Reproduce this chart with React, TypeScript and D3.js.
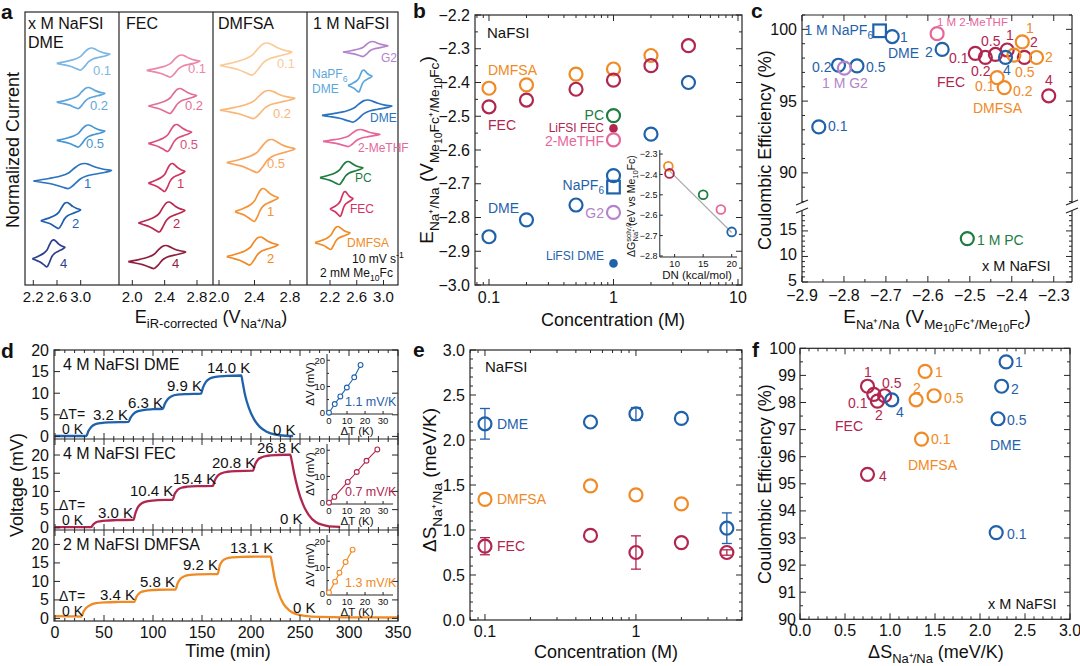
import React from 'react';
import * as d3 from 'd3';

const FONT = "'Liberation Sans', Arial, Helvetica, sans-serif";
const AXC = '#262626';
const BLUE = '#1f62ab';
const ORANGE = '#f08a24';
const CRIMSON = '#b1264f';
const GREEN = '#1d7c3f';
const PINK = '#e5679b';
const PURPLE = '#b384cb';
const LBLUE = '#5aa7de';

/* ================= a : cyclic voltammograms ================= */
// normalised duck-shaped CV outline
const cvShapeU = [0, 0.2, 0.35, 0.45, 0.52, 0.6, 0.66, 0.72, 0.8, 0.9, 1, 0.92, 0.8, 0.68, 0.6, 0.52, 0.45, 0.38, 0.25, 0.1, 0];
const cvShapeV = [-0.2, -0.1, 0, 0.12, 0.3, 0.47, 0.5, 0.45, 0.35, 0.27, 0.22, 0.15, 0.08, 0, -0.12, -0.35, -0.5, -0.45, -0.33, -0.25, -0.2];

const aDMEConc = ['0.1', '0.2', '0.5', '1', '2', '4'];
const aDMELeft = [2.595, 2.595, 2.595, 2.2, 2.325, 2.183];
const aDMERight = [3.494, 3.41, 3.41, 3.52, 3.0, 2.735];
const aDMELevel = [22.6, 18.7, 14.9, 10.9, 6.95, 3.17];
const aDMEAmp = [2.2, 2.1, 2.2, 2.5, 2.6, 2.7];

const aFECConc = ['0.1', '0.2', '0.5', '1', '2', '4'];
const aFECLeft = [2.178, 2.198, 2.198, 2.198, 2.074, 1.95];
const aFECRight = [2.837, 2.796, 2.734, 2.651, 2.651, 2.66];
const aFECLevel = [21.9, 18.4, 14.7, 10.75, 6.8, 2.8];
const aFECAmp = [2.2, 2.5, 2.7, 2.8, 3.0, 2.3];

const aDMFSAConc = ['0.1', '0.2', '0.5', '1', '2'];
const aDMFSALeft = [2.011, 2.011, 2.087, 2.18, 2.087];
const aDMFSARight = [2.82, 2.856, 2.856, 2.668, 2.668];
const aDMFSALevel = [22.6, 18.05, 12.9, 8.0, 3.4];
const aDMFSAAmp = [3.2, 2.8, 3.3, 3.3, 2.8];

const aSolvNames = ['G2', 'NaPF6 DME', 'DME', '2-MeTHF', 'PC', 'FEC', 'DMFSA'];
const aSolvLeft = [2.394, 2.469, 2.08, 2.095, 2.05, 2.2, 1.976];
const aSolvRight = [3.067, 2.828, 3.127, 2.947, 2.693, 2.544, 2.5];
const aSolvLevel = [23.6, 20.4, 17.4, 14.7, 11.2, 8.1, 4.7];
const aSolvAmp = [1.5, 2.2, 2.2, 1.7, 2.3, 2.5, 2.3];

const aColTicks = [[2.2, 2.6, 3.0], [2.0, 2.4, 2.8], [2.0, 2.4, 2.8], [2.2, 2.6, 3.0]];

/* ================= b ================= */
const bConcDME = [0.1, 0.2, 0.5, 1, 2, 4];
const bEDME = [-2.857, -2.807, -2.763, -2.676, -2.553, -2.40];
const bConcFEC = [0.1, 0.2, 0.5, 1, 2, 4];
const bEFEC = [-2.472, -2.452, -2.42, -2.393, -2.35, -2.291];
const bConcDMFSA = [0.1, 0.2, 0.5, 1, 2];
const bEDMFSA = [-2.417, -2.407, -2.375, -2.36, -2.32];
const bOtherNames = ['PC', 'LiFSI FEC', '2-MeTHF', 'NaPF6', 'G2', 'LiFSI DME'];
const bOtherE = [-2.498, -2.536, -2.57, -2.71, -2.785, -2.936];
const bOtherKind = ['open', 'filled', 'open', 'square', 'open', 'filled'];

const dnNames = ['DMFSA', 'FEC', 'PC', '2-MeTHF', 'DME'];
const dnValues = [8.9, 9.1, 15.0, 18.1, 20.0];
const dnEnergy = [-2.36, -2.395, -2.50, -2.572, -2.682];
const dnFitDN = [9.2, 20.0];
const dnFitE = [-2.385, -2.685];

/* ================= c ================= */
const cDME_E = [-2.86, -2.813, -2.769, -2.685, -2.566, -2.415];
const cDME_CE = [93.2, 97.5, 97.45, 99.5, 98.6, 98.05];
const cFEC_E = [-2.487, -2.463, -2.439, -2.411, -2.37, -2.312];
const cFEC_CE = [98.33, 98.05, 98.25, 98.56, 98.05, 95.37];
const cDMFSA_E = [-2.435, -2.418, -2.395, -2.375, -2.341];
const cDMFSA_CE = [96.64, 95.94, 98.2, 99.13, 98.04];
const cNaPF6 = [-2.715, 99.9];
const cG2 = [-2.799, 97.3];
const cMeTHF = [-2.578, 99.7];
const cPC = [-2.506, 13.5];

/* ================= d ================= */
const dDMEt = [0, 32, 34, 37, 41, 47, 56, 75, 77, 80, 84, 90, 100, 110, 112, 115, 119, 125, 135, 149, 151, 154, 158, 164, 175, 190, 191.5, 194, 198, 203, 209, 216, 225, 235, 243];
const dDMEv = [0.1, 0.1, 1.2, 2.2, 2.8, 3.1, 3.25, 3.35, 4.3, 5.2, 5.8, 6.1, 6.3, 6.4, 7.5, 8.6, 9.3, 9.65, 9.8, 9.9, 11.3, 12.6, 13.4, 13.8, 14.0, 14.1, 12.5, 9.5, 6.5, 4.0, 2.2, 1.1, 0.4, 0.15, 0.1];
const dFECt = [0, 37, 39, 42, 46, 52, 62, 80, 82, 85, 89, 95, 105, 120, 122, 125, 129, 135, 145, 161, 163, 166, 170, 176, 186, 202, 204, 207, 211, 217, 227, 240, 241.5, 244, 248, 253, 259, 266, 275, 285, 291];
const dFECv = [0.2, 0.2, 0.9, 1.5, 1.8, 2.0, 2.1, 2.2, 4.0, 5.8, 6.8, 7.3, 7.6, 7.7, 9.2, 10.4, 11.0, 11.3, 11.45, 11.5, 13.0, 14.3, 15.0, 15.4, 15.6, 15.7, 17.3, 18.7, 19.4, 19.8, 20.0, 20.1, 18.5, 15.0, 10.5, 6.5, 3.5, 1.6, 0.7, 0.3, 0.25];
const dDMFSAt = [0, 15, 27, 29, 32, 36, 42, 52, 65, 81, 83, 86, 90, 96, 106, 123, 125, 128, 132, 138, 148, 166, 168, 171, 175, 181, 191, 220, 221.5, 224, 228, 233, 239, 246, 255, 270, 300, 350];
const dDMFSAv = [0.6, 0.55, 0.5, 1.8, 2.9, 3.6, 4.1, 4.35, 4.45, 4.5, 5.8, 6.8, 7.3, 7.6, 7.75, 7.8, 9.4, 10.7, 11.4, 11.75, 11.9, 12.0, 14.2, 15.6, 16.2, 16.5, 16.65, 16.7, 14.8, 11.0, 7.0, 4.0, 2.2, 1.2, 0.7, 0.4, 0.3, 0.25];
const dDMEsteps = ['3.2 K', '6.3 K', '9.9 K', '14.0 K'];
const dFECsteps = ['3.0 K', '10.4 K', '15.4 K', '20.8 K', '26.8 K'];
const dDMFSAsteps = ['3.4 K', '5.8 K', '9.2 K', '13.1 K'];
const dInDME_dT = [0, 3.2, 6.3, 9.9, 14.0, 17.5];
const dInDME_dV = [0, 3.3, 6.2, 9.6, 13.5, 18.2];
const dInFEC_dT = [0, 3.0, 10.4, 15.4, 20.8, 26.8];
const dInFEC_dV = [0, 2.2, 7.9, 11.7, 16.0, 20.3];
const dInDMFSA_dT = [0, 3.4, 5.8, 9.2, 13.1];
const dInDMFSA_dV = [0.5, 4.6, 8.0, 12.1, 16.8];
const dSlopes = ['1.1 mV/K', '0.7 mV/K', '1.3 mV/K'];

/* ================= e ================= */
const eConc = [0.1, 0.5, 1, 2, 4];
const eDME = [2.18, 2.20, 2.29, 2.24, 1.02];
const eDMEErr = [0.17, 0, 0.07, 0, 0.17];
const eConcDMFSA = [0.1, 0.5, 1, 2];
const eDMFSA = [1.34, 1.49, 1.39, 1.29];
const eFEC = [0.82, 0.94, 0.75, 0.86, 0.75];
const eFECErr = [0.095, 0, 0.185, 0, 0.03];

/* ================= f ================= */
const fDME_S = [2.18, 2.20, 2.29, 2.24, 1.02];
const fDME_CE = [93.2, 97.4, 99.5, 98.6, 98.1];
const fDMFSA_S = [1.35, 1.49, 1.39, 1.29];
const fDMFSA_CE = [96.65, 98.25, 99.15, 98.1];
const fFEC_S = [0.82, 0.94, 0.75, 0.86, 0.75];
const fFEC_CE = [98.3, 98.25, 98.6, 98.05, 95.35];

/* ---------------- helpers ---------------- */
const stepVals = (a: number, b: number, s: number) =>
  d3.range(Math.round((b - a) / s) + 1).map((i) => +(a + i * s).toFixed(6));
const f1 = d3.format('.1f');

function Rich({ x, y, size, segs, anchor = 'start', rotate = 0, fill = '#111', weight }: any) {
  let cur = 0;
  const kids = segs.map((s: any, i: number) => {
    const [t, k, dx] = s;
    let fs = size, off = 0;
    if (k === 'sub') { fs = size * 0.72; off = size * 0.3; }
    else if (k === 'sub2') { fs = size * 0.55; off = size * 0.48; }
    else if (k === 'sup') { fs = size * 0.72; off = -size * 0.38; }
    const dy = off - cur;
    cur = off;
    return (
      <tspan key={i} dy={dy} dx={dx || 0} fontSize={fs}>
        {t}
      </tspan>
    );
  });
  const tr = rotate ? `rotate(${rotate} ${x} ${y})` : undefined;
  return (
    <text x={x} y={y} fontSize={size} textAnchor={anchor} fill={fill} transform={tr} fontWeight={weight}>
      {kids}
    </text>
  );
}

function TicksY({ scale, vals, x0, x1, len, both = true }: any) {
  return (
    <g stroke={AXC} strokeWidth={1}>
      {vals.map((v: number, i: number) => {
        const y = scale(v);
        return (
          <g key={i}>
            <line x1={x0} x2={x0 + len} y1={y} y2={y} />
            {both && <line x1={x1} x2={x1 - len} y1={y} y2={y} />}
          </g>
        );
      })}
    </g>
  );
}
function TicksX({ scale, vals, y0, y1, len, both = true }: any) {
  return (
    <g stroke={AXC} strokeWidth={1}>
      {vals.map((v: number, i: number) => {
        const x = scale(v);
        return (
          <g key={i}>
            <line x1={x} x2={x} y1={y0} y2={y0 - len} />
            {both && <line x1={x} x2={x} y1={y1} y2={y1 + len} />}
          </g>
        );
      })}
    </g>
  );
}
const Ring = ({ cx, cy, color, r = 6.5, sw = 2.2 }: any) => (
  <circle cx={cx} cy={cy} r={r} fill="none" stroke={color} strokeWidth={sw} />
);
const T = ({ x, y, c = '#111', s = 14, a = 'start', children }: any) => (
  <text x={x} y={y} fill={c} fontSize={s} textAnchor={a}>
    {children}
  </text>
);
const Letter = ({ x, y, ch }: any) => (
  <text x={x} y={y} fontSize={21} fontWeight="bold" fill="#111">
    {ch}
  </text>
);
const logMinor = [0.08, 0.09, 0.2, 0.3, 0.4, 0.5, 0.6, 0.7, 0.8, 0.9, 2, 3, 4, 5, 6, 7, 8, 9];

/* ================= Panel a ================= */
function PanelA() {
  const top = 12, bottom = 285;
  const cols = [25, 119, 213, 307, 398];
  const domains = [[2.2, 3.0], [2.0, 2.8], [2.0, 2.8], [2.2, 3.0]];
  const ranges = [[33.3, 80.7], [132.3, 197], [219, 290], [330, 383.5]];
  const xs = domains.map((d, i) => d3.scaleLinear().domain(d).range(ranges[i]));
  const y = d3.scaleLinear().domain([0, 27.3]).range([bottom, top]);
  const line = d3.line<[number, number]>().curve(d3.curveCatmullRom.alpha(0.5));
  const dmeCols = ['#7ab7e4', '#5fa6dc', '#4896d2', '#2a74bf', '#1f5fae', '#2c3f8e'];
  const fecCols = ['#eb88a7', '#e36e93', '#da527c', '#cf3461', '#b8274f', '#8e1f3f'];
  const dmfsaCols = ['#fbca99', '#f9b77a', '#f7a65f', '#f39436', '#f08a24'];
  const solvCols = [PURPLE, LBLUE, '#2a74bf', PINK, GREEN, '#d2335f', ORANGE];
  const groups = [
    { l: aDMELeft, r: aDMERight, lv: aDMELevel, am: aDMEAmp, c: dmeCols },
    { l: aFECLeft, r: aFECRight, lv: aFECLevel, am: aFECAmp, c: fecCols },
    { l: aDMFSALeft, r: aDMFSARight, lv: aDMFSALevel, am: aDMFSAAmp, c: dmfsaCols },
    { l: aSolvLeft, r: aSolvRight, lv: aSolvLevel, am: aSolvAmp, c: solvCols },
  ];
  const paths = groups.flatMap((g, ci) =>
    g.l.map((left, i) => {
      const pts = cvShapeU.map((u, k) => [
        xs[ci](left + u * (g.r[i] - left)),
        y(g.lv[i] + cvShapeV[k] * g.am[i]),
      ]) as [number, number][];
      return <path key={`cv${ci}-${i}`} d={line(pts) || ''} fill="none" stroke={g.c[i]} strokeWidth={1.7} strokeLinejoin="round" />;
    })
  );
  const lab1 = [[93, 75], [90, 110], [86, 148], [84, 188], [72, 228], [60, 268]];
  const lab2 = [[188, 73], [185, 110], [180, 149], [177, 188], [173, 228], [172, 268]];
  const lab3 = [[277, 68], [273, 118], [267, 168], [267, 216], [267, 263]];
  return (
    <g>
      <Letter x={1} y={19} ch="a" />
      {paths}
      <rect x={cols[0]} y={top} width={cols[4] - cols[0]} height={bottom - top} fill="none" stroke={AXC} strokeWidth={1.2} />
      {cols.slice(1, 4).map((c) => (
        <line key={c} x1={c} x2={c} y1={top} y2={bottom} stroke={AXC} strokeWidth={1.2} />
      ))}
      {aColTicks.map((tk, ci) =>
        tk.map((v) => (
          <g key={`t${ci}-${v}`}>
            <line x1={xs[ci](v)} x2={xs[ci](v)} y1={bottom} y2={bottom - 5} stroke={AXC} />
            <text x={xs[ci](v)} y={302} fontSize={15} textAnchor="middle" fill="#111">
              {f1(v)}
            </text>
          </g>
        ))
      )}
      <T x={28} y={29} s={16}>x M NaFSI</T>
      <T x={28} y={48} s={16}>DME</T>
      <T x={126} y={29} s={16}>FEC</T>
      <T x={218} y={29} s={16}>DMFSA</T>
      <T x={313} y={29} s={16}>1 M NaFSI</T>
      {aDMEConc.map((c, i) => <T key={'l1' + i} x={lab1[i][0]} y={lab1[i][1]} c={dmeCols[i]} s={13}>{c}</T>)}
      {aFECConc.map((c, i) => <T key={'l2' + i} x={lab2[i][0]} y={lab2[i][1]} c={fecCols[i]} s={13}>{c}</T>)}
      {aDMFSAConc.map((c, i) => <T key={'l3' + i} x={lab3[i][0]} y={lab3[i][1]} c={dmfsaCols[i]} s={13}>{c}</T>)}
      <T x={381} y={62} c={PURPLE} s={12}>{aSolvNames[0]}</T>
      <Rich x={312} y={78} size={12} fill={LBLUE} segs={[['NaPF', ''], ['6', 'sub']]} />
      <T x={312} y={93} c={LBLUE} s={12}>DME</T>
      <T x={370} y={122} c="#2a74bf" s={12}>{aSolvNames[2]}</T>
      <T x={358} y={152} c={PINK} s={12}>{aSolvNames[3]}</T>
      <T x={355} y={182} c={GREEN} s={12}>{aSolvNames[4]}</T>
      <T x={350} y={213} c="#d2335f" s={12}>{aSolvNames[5]}</T>
      <T x={347} y={247} c={ORANGE} s={12}>{aSolvNames[6]}</T>
      <Rich x={352} y={263} size={12} segs={[['10 mV s', ''], ['-1', 'sup']]} />
      <Rich x={320} y={277} size={12} segs={[['2 mM Me', ''], ['10', 'sub'], ['Fc', '']]} />
      <Rich x={19} y={150} size={18} rotate={-90} anchor="middle" segs={[['Normalized Current', '']]} />
      <Rich x={211} y={323} size={18} anchor="middle" segs={[['E', ''], ['iR-corrected', 'sub'], [' (V', ''], ['Na⁺/Na', 'sub'], [')', '']]} />
    </g>
  );
}

/* ================= Panel b ================= */
function PanelB() {
  const L = 475, R = 742, Tp = 15, B = 285;
  const x = d3.scaleLog().domain([0.0772, 10.77]).range([L, R]);
  const y = d3.scaleLinear().domain([-3.0, -2.2]).range([B, Tp]);
  const xi = d3.scaleLinear().domain([7.4, 20.93]).range([659.8, 737]);
  const yi = d3.scaleLinear().domain([-2.805, -2.29]).range([257, 152]);
  const otherColors = [GREEN, CRIMSON, PINK, BLUE, PURPLE, BLUE];
  const dnColors = [ORANGE, CRIMSON, GREEN, PINK, BLUE];
  const labelY = [120, 132, 146, 190, 218, 260];
  return (
    <g>
      <Letter x={413} y={18} ch="b" />
      <rect x={L} y={Tp} width={R - L} height={B - Tp} fill="none" stroke={AXC} strokeWidth={1.2} />
      <TicksY scale={y} vals={stepVals(-3.0, -2.2, 0.1)} x0={L} x1={R} len={6} />
      <TicksY scale={y} vals={stepVals(-2.95, -2.25, 0.1)} x0={L} x1={R} len={3} />
      <TicksX scale={x} vals={[0.1, 1, 10]} y0={B} y1={Tp} len={6} />
      <TicksX scale={x} vals={logMinor} y0={B} y1={Tp} len={3} />
      {stepVals(-3.0, -2.2, 0.1).map((v) => (
        <text key={v} x={L - 5} y={y(v) + 5.5} fontSize={16} textAnchor="end" fill="#111">{f1(v)}</text>
      ))}
      {[0.1, 1, 10].map((v) => (
        <text key={v} x={x(v)} y={303} fontSize={16} textAnchor="middle" fill="#111">{String(v)}</text>
      ))}
      {bConcDMFSA.map((c, i) => <Ring key={'o' + i} cx={x(c)} cy={y(bEDMFSA[i])} color={ORANGE} />)}
      {bConcFEC.map((c, i) => <Ring key={'f' + i} cx={x(c)} cy={y(bEFEC[i])} color={CRIMSON} />)}
      {bConcDME.map((c, i) => <Ring key={'d' + i} cx={x(c)} cy={y(bEDME[i])} color={BLUE} />)}
      {bOtherE.map((e, i) =>
        bOtherKind[i] === 'square' ? (
          <rect key={'s' + i} x={x(1) - 6.3} y={y(e) - 6.3} width={12.6} height={12.6} fill="none" stroke={otherColors[i]} strokeWidth={2.2} />
        ) : bOtherKind[i] === 'filled' ? (
          <circle key={'s' + i} cx={x(1)} cy={y(e)} r={4.3} fill={otherColors[i]} />
        ) : (
          <Ring key={'s' + i} cx={x(1)} cy={y(e)} color={otherColors[i]} />
        )
      )}
      <T x={487} y={38} s={15}>NaFSI</T>
      <T x={488} y={75} c={ORANGE}>DMFSA</T>
      <T x={488} y={130} c={CRIMSON}>FEC</T>
      <T x={488} y={213} c={BLUE}>DME</T>
      {bOtherNames.map((n, i) =>
        n === 'NaPF6' ? (
          <Rich key={n} x={604} y={labelY[i]} size={14} anchor="end" fill={BLUE} segs={[['NaPF', ''], ['6', 'sub']]} />
        ) : (
          <T key={n} x={604} y={labelY[i]} a="end" c={otherColors[i]} s={n.startsWith('LiFSI') ? 12 : 14}>{n}</T>
        )
      )}
      {/* inset */}
      <line x1={659.8} x2={659.8} y1={150} y2={257} stroke={AXC} />
      <line x1={659.8} x2={737} y1={257} y2={257} stroke={AXC} />
      <TicksY scale={yi} vals={stepVals(-2.8, -2.3, 0.1)} x0={659.8} x1={0} len={3} both={false} />
      <TicksX scale={xi} vals={[10, 15, 20]} y0={257} y1={0} len={3} both={false} />
      {stepVals(-2.8, -2.3, 0.1).map((v) => (
        <text key={'iy' + v} x={657.5} y={yi(v) + 3.2} fontSize={9} textAnchor="end" fill="#111">{f1(v)}</text>
      ))}
      {[10, 15, 20].map((v) => (
        <text key={'ix' + v} x={xi(v)} y={267} fontSize={9.5} textAnchor="middle" fill="#111">{v}</text>
      ))}
      <T x={697} y={279} s={11.5} a="middle">DN (kcal/mol)</T>
      <line x1={xi(dnFitDN[0])} y1={yi(dnFitE[0])} x2={xi(dnFitDN[1])} y2={yi(dnFitE[1])} stroke="#a8a8a8" strokeWidth={1.2} />
      {dnValues.map((d, i) => <Ring key={'dn' + i} cx={xi(d)} cy={yi(dnEnergy[i])} color={dnColors[i]} r={4.4} sw={1.8} />)}
      <Rich x={635} y={206} size={10.5} rotate={-90} anchor="middle"
        segs={[['ΔG', ''], ['solv,0', 'sup'], ['Na⁺', 'sub', -19], [' (eV vs Me', ''], ['10', 'sub'], ['Fc)', '']]} />
      <Rich x={433} y={150} size={19} rotate={-90} anchor="middle"
        segs={[['E', ''], ['Na⁺/Na', 'sub'], [' (V', ''], ['Me', 'sub'], ['10', 'sub2'], ['Fc⁺/Me', 'sub'], ['10', 'sub2'], ['Fc', 'sub'], [')', '']]} />
      <T x={613} y={326} s={18} a="middle">Concentration (M)</T>
    </g>
  );
}

/* ================= Panel c ================= */
function PanelC() {
  const L = 802, R = 1072, Tp = 15, B = 282, brkTop = 203, brkBot = 211;
  const x = d3.scaleLinear().domain([-2.9, -2.2565]).range([L, R]);
  const yu = d3.scaleLinear().domain([87.9, 101.0]).range([brkTop, Tp]);
  const yl = d3.scaleLinear().domain([5, 18.9]).range([B, brkBot]);
  const yc = (v: number) => (v > 50 ? yu(v) : yl(v));
  const brk = (ax: number) => (
    <g stroke={AXC} strokeWidth={1.2}>
      <line x1={ax - 6} y1={brkTop + 2} x2={ax + 6} y2={brkTop - 3} />
      <line x1={ax - 6} y1={brkBot + 2} x2={ax + 6} y2={brkBot - 3} />
    </g>
  );
  return (
    <g>
      <Letter x={751} y={18} ch="c" />
      <line x1={L} x2={R} y1={Tp} y2={Tp} stroke={AXC} strokeWidth={1.2} />
      <line x1={L} x2={R} y1={B} y2={B} stroke={AXC} strokeWidth={1.2} />
      {[L, R].map((ax) => (
        <g key={ax}>
          <line x1={ax} x2={ax} y1={Tp} y2={brkTop} stroke={AXC} strokeWidth={1.2} />
          <line x1={ax} x2={ax} y1={brkBot} y2={B} stroke={AXC} strokeWidth={1.2} />
          {brk(ax)}
        </g>
      ))}
      <TicksX scale={x} vals={stepVals(-2.9, -2.3, 0.1)} y0={B} y1={Tp} len={6} />
      <TicksX scale={x} vals={stepVals(-2.85, -2.35, 0.1)} y0={B} y1={Tp} len={3} />
      <TicksY scale={yu} vals={[90, 95, 100]} x0={L} x1={R} len={6} />
      <TicksY scale={yu} vals={stepVals(88, 101, 1).filter((v) => v % 5 !== 0)} x0={L} x1={R} len={3} />
      <TicksY scale={yl} vals={[5, 10, 15]} x0={L} x1={R} len={6} />
      <TicksY scale={yl} vals={stepVals(6, 18, 1).filter((v) => v % 5 !== 0)} x0={L} x1={R} len={3} />
      {stepVals(-2.9, -2.3, 0.1).map((v) => (
        <text key={v} x={x(v)} y={301} fontSize={16} textAnchor="middle" fill="#111">{f1(v)}</text>
      ))}
      {[90, 95, 100].map((v) => (
        <text key={v} x={L - 5} y={yu(v) + 5.5} fontSize={16} textAnchor="end" fill="#111">{v}</text>
      ))}
      {[5, 10, 15].map((v) => (
        <text key={v} x={L - 5} y={yl(v) + 4} fontSize={16} textAnchor="end" fill="#111">{v}</text>
      ))}
      {cFEC_E.map((e, i) => <Ring key={'f' + i} cx={x(e)} cy={yc(cFEC_CE[i])} color={CRIMSON} />)}
      {cDMFSA_E.map((e, i) => <Ring key={'o' + i} cx={x(e)} cy={yc(cDMFSA_CE[i])} color={ORANGE} />)}
      {cDME_E.map((e, i) => <Ring key={'d' + i} cx={x(e)} cy={yc(cDME_CE[i])} color={BLUE} />)}
      <rect x={x(cNaPF6[0]) - 6.3} y={yc(cNaPF6[1]) - 6.3} width={12.6} height={12.6} fill="none" stroke={BLUE} strokeWidth={2.2} />
      <Ring cx={x(cG2[0])} cy={yc(cG2[1])} color={PURPLE} />
      <Ring cx={x(cMeTHF[0])} cy={yc(cMeTHF[1])} color={PINK} />
      <Ring cx={x(cPC[0])} cy={yc(cPC[1])} color={GREEN} />
      <Rich x={873} y={35} size={14} anchor="end" fill={BLUE} segs={[['1 M NaPF', ''], ['6', 'sub']]} />
      <T x={900} y={42} c={BLUE}>1</T>
      <T x={888} y={58} c={BLUE}>DME</T>
      <T x={925} y={57} c={BLUE}>2</T>
      <T x={812} y={72} c={BLUE}>0.2</T>
      <T x={866} y={72} c={BLUE}>0.5</T>
      <T x={822} y={88} c={PURPLE}>1 M G2</T>
      <T x={828} y={131} c={BLUE}>0.1</T>
      <T x={1003} y={75} c={BLUE}>4</T>
      <T x={937} y={26} c={PINK} s={11.5}>1 M 2-MeTHF</T>
      <T x={949} y={63} c={CRIMSON}>0.1</T>
      <T x={971} y={76} c={CRIMSON}>0.2</T>
      <T x={981} y={46} c={CRIMSON}>0.5</T>
      <T x={1006} y={40} c={CRIMSON}>1</T>
      <T x={1030} y={47} c={CRIMSON}>2</T>
      <T x={1045} y={85} c={CRIMSON}>4</T>
      <T x={937} y={87} c={CRIMSON}>FEC</T>
      <T x={1026} y={33} c={ORANGE}>1</T>
      <T x={1045} y={62} c={ORANGE}>2</T>
      <T x={1015} y={77} c={ORANGE}>0.5</T>
      <T x={975} y={91} c={ORANGE}>0.1</T>
      <T x={1013} y={96} c={ORANGE}>0.2</T>
      <T x={973} y={113} c={ORANGE}>DMFSA</T>
      <T x={977} y={245} c={GREEN}>1 M PC</T>
      <T x={982} y={271} s={14.5}>x M NaFSI</T>
      <Rich x={771} y={150} size={18} rotate={-90} anchor="middle" segs={[['Coulombic Efficiency (%)', '']]} />
      <Rich x={937} y={323} size={19} anchor="middle"
        segs={[['E', ''], ['Na⁺/Na', 'sub'], [' (V', ''], ['Me', 'sub'], ['10', 'sub2'], ['Fc⁺/Me', 'sub'], ['10', 'sub2'], ['Fc', 'sub'], [')', '']]} />
    </g>
  );
}

/* ================= Panel d ================= */
function PanelD() {
  const L = 54, R = 398;
  const x = d3.scaleLinear().domain([0, 350]).range([55, 398]);
  const xi = d3.scaleLinear().domain([-1.1, 35.5]).range([327, 393]);
  const line = d3.line<[number, number]>().curve(d3.curveMonotoneX);
  const subs = [
    { top: 350, bottom: 439, dom: [-0.6, 20], t: dDMEt, v: dDMEv, c: BLUE, it: dInDME_dT, iv: dInDME_dV, ib: 414 },
    { top: 439, bottom: 530, dom: [-0.6, 24.4], t: dFECt, v: dFECv, c: CRIMSON, it: dInFEC_dT, iv: dInFEC_dV, ib: 504 },
    { top: 530, bottom: 621, dom: [-0.7, 23.9], t: dDMFSAt, v: dDMFSAv, c: ORANGE, it: dInDMFSA_dT, iv: dInDMFSA_dV, ib: 595 },
  ];
  const titles = ['4 M NaFSI DME', '4 M NaFSI FEC', '2 M NaFSI DMFSA'];
  const stepLabels = [dDMEsteps, dFECsteps, dDMFSAsteps];
  const stepPos = [
    [[93, 420], [128, 408], [167, 391], [207, 373]],
    [[98, 518], [130, 496], [173, 484], [212, 468], [257, 453]],
    [[100, 600], [140, 587], [183, 570], [230, 553]],
  ];
  const endZero = [[273, 435], [280, 524], [293, 613]];
  return (
    <g>
      <Letter x={1} y={358} ch="d" />
      {subs.map((s, si) => {
        const y = d3.scaleLinear().domain(s.dom).range([s.bottom, s.top]);
        const yi = d3.scaleLinear().domain([-0.5, 22]).range([s.ib, s.ib - 59]);
        const pts = s.t.map((tt, i) => [x(tt), y(s.v[i])]) as [number, number][];
        const ipts = s.it.map((tt, i) => [xi(tt), yi(s.iv[i])]) as [number, number][];
        return (
          <g key={si}>
            <path d={line(pts) || ''} fill="none" stroke={s.c} strokeWidth={2.3} />
            <TicksY scale={y} vals={[0, 5, 10, 15, 20]} x0={L} x1={R} len={6} />
            {[0, 5, 10, 15, 20].map((v) => (
              <text key={v} x={49} y={y(v) + 5.5} fontSize={16} textAnchor="end" fill="#111">{v}</text>
            ))}
            <TicksX scale={x} vals={stepVals(0, 350, 50)} y0={s.bottom} y1={s.top} len={6} />
            <TicksX scale={x} vals={stepVals(10, 340, 10).filter((v) => v % 50 !== 0)} y0={s.bottom} y1={s.top} len={3} />
            <T x={63} y={s.top + 20} s={16}>{titles[si]}</T>
            <T x={59} y={s.bottom - 20} s={14}>ΔT=</T>
            <T x={62} y={s.bottom - 5} s={14}>0 K</T>
            {stepLabels[si].map((lb, k) => (
              <T key={k} x={stepPos[si][k][0]} y={stepPos[si][k][1]} s={15}>{lb}</T>
            ))}
            <T x={endZero[si][0]} y={endZero[si][1]} s={15}>0 K</T>
            {/* inset */}
            <line x1={327} x2={327} y1={s.ib - 60} y2={s.ib} stroke={AXC} />
            <line x1={327} x2={393} y1={s.ib} y2={s.ib} stroke={AXC} />
            <TicksY scale={yi} vals={[0, 10, 20]} x0={327} x1={0} len={3} both={false} />
            <TicksY scale={yi} vals={[5, 15]} x0={327} x1={0} len={2} both={false} />
            <TicksX scale={xi} vals={[0, 10, 20, 30]} y0={s.ib} y1={0} len={3} both={false} />
            {[0, 10, 20].map((v) => (
              <text key={'iy' + v} x={325} y={yi(v) + 3.5} fontSize={9.5} textAnchor="end" fill="#111">{v}</text>
            ))}
            {[0, 10, 20, 30].map((v) => (
              <text key={'ix' + v} x={xi(v)} y={s.ib + 10} fontSize={9.5} textAnchor="middle" fill="#111">{v}</text>
            ))}
            <T x={357} y={s.ib + 21} s={11.5} a="middle">ΔT (K)</T>
            <Rich x={314} y={s.ib - 30} size={11.5} rotate={-90} anchor="middle" segs={[['ΔV (mV)', '']]} />
            <path d={d3.line()(ipts) || ''} fill="none" stroke={s.c} strokeWidth={1.1} />
            {ipts.map((p, k) => <circle key={k} cx={p[0]} cy={p[1]} r={2.4} fill="#fff" stroke={s.c} strokeWidth={1.1} />)}
            <T x={345} y={s.ib - 8} s={12.5} c={s.c}>{dSlopes[si]}</T>
          </g>
        );
      })}
      <rect x={L} y={350} width={R - L} height={271} fill="none" stroke={AXC} strokeWidth={1.2} />
      <line x1={L} x2={R} y1={439} y2={439} stroke={AXC} strokeWidth={1.2} />
      <line x1={L} x2={R} y1={530} y2={530} stroke={AXC} strokeWidth={1.2} />
      {stepVals(0, 350, 50).map((v) => (
        <text key={v} x={x(v)} y={638} fontSize={16} textAnchor="middle" fill="#111">{v}</text>
      ))}
      <Rich x={23} y={485} size={18} rotate={-90} anchor="middle" segs={[['Voltage (mV)', '']]} />
      <T x={228} y={657} s={18} a="middle">Time (min)</T>
    </g>
  );
}

/* ================= Panel e ================= */
function PanelE() {
  const L = 470, R = 742, Tp = 350, B = 620;
  const x = d3.scaleLog().domain([0.0796, 5.04]).range([L, R]);
  const y = d3.scaleLinear().domain([0, 3]).range([B, Tp]);
  const err = (cx: number, v: number, e: number, c: string, k: string) =>
    e > 0 ? (
      <g key={k} stroke={c} strokeWidth={1.3}>
        <line x1={cx} x2={cx} y1={y(v - e)} y2={y(v + e)} />
        <line x1={cx - 5} x2={cx + 5} y1={y(v - e)} y2={y(v - e)} />
        <line x1={cx - 5} x2={cx + 5} y1={y(v + e)} y2={y(v + e)} />
      </g>
    ) : null;
  return (
    <g>
      <Letter x={413} y={357} ch="e" />
      <rect x={L} y={Tp} width={R - L} height={B - Tp} fill="none" stroke={AXC} strokeWidth={1.2} />
      <TicksY scale={y} vals={stepVals(0, 3, 0.5)} x0={L} x1={R} len={6} />
      <TicksY scale={y} vals={stepVals(0.1, 2.9, 0.1).filter((v) => Math.abs(v * 2 - Math.round(v * 2)) > 1e-6)} x0={L} x1={R} len={3} />
      <TicksX scale={x} vals={[0.1, 1]} y0={B} y1={Tp} len={6} />
      <TicksX scale={x} vals={logMinor.filter((v) => v <= 5)} y0={B} y1={Tp} len={3} />
      {stepVals(0, 3, 0.5).map((v) => (
        <text key={v} x={L - 5} y={y(v) + 5.5} fontSize={16} textAnchor="end" fill="#111">{f1(v)}</text>
      ))}
      {[0.1, 1].map((v) => (
        <text key={v} x={x(v)} y={637} fontSize={16} textAnchor="middle" fill="#111">{String(v)}</text>
      ))}
      {eConc.map((c, i) => err(x(c), eDME[i], eDMEErr[i], BLUE, 'ed' + i))}
      {eConc.map((c, i) => err(x(c), eFEC[i], eFECErr[i], CRIMSON, 'ef' + i))}
      {eConc.map((c, i) => <Ring key={'d' + i} cx={x(c)} cy={y(eDME[i])} color={BLUE} />)}
      {eConcDMFSA.map((c, i) => <Ring key={'o' + i} cx={x(c)} cy={y(eDMFSA[i])} color={ORANGE} />)}
      {eConc.map((c, i) => <Ring key={'f' + i} cx={x(c)} cy={y(eFEC[i])} color={CRIMSON} />)}
      <T x={485} y={372} s={15}>NaFSI</T>
      <T x={497} y={429} c={BLUE}>DME</T>
      <T x={497} y={504} c={ORANGE}>DMFSA</T>
      <T x={497} y={551} c={CRIMSON}>FEC</T>
      <Rich x={436} y={480} size={19} rotate={-90} anchor="middle" segs={[['ΔS', ''], ['Na⁺/Na', 'sub'], [' (meV/K)', '']]} />
      <T x={606} y={658} s={18} a="middle">Concentration (M)</T>
    </g>
  );
}

/* ================= Panel f ================= */
function PanelF() {
  const L = 800, R = 1070, Tp = 348.3, B = 619.3;
  const x = d3.scaleLinear().domain([0, 3]).range([L, R]);
  const y = d3.scaleLinear().domain([90, 100]).range([B, Tp]);
  return (
    <g>
      <Letter x={752} y={357} ch="f" />
      <rect x={L} y={Tp} width={R - L} height={B - Tp} fill="none" stroke={AXC} strokeWidth={1.2} />
      <TicksY scale={y} vals={stepVals(90, 100, 1)} x0={L} x1={R} len={6} />
      <TicksY scale={y} vals={stepVals(90.5, 99.5, 1)} x0={L} x1={R} len={3} />
      <TicksX scale={x} vals={stepVals(0, 3, 0.5)} y0={B} y1={Tp} len={6} />
      <TicksX scale={x} vals={stepVals(0.1, 2.9, 0.1).filter((v) => Math.abs(v * 2 - Math.round(v * 2)) > 1e-6)} y0={B} y1={Tp} len={3} />
      {stepVals(90, 100, 1).map((v) => (
        <text key={v} x={L - 4} y={y(v) + 5.5} fontSize={16} textAnchor="end" fill="#111">{v}</text>
      ))}
      {stepVals(0, 3, 0.5).map((v) => (
        <text key={v} x={x(v)} y={636} fontSize={16} textAnchor="middle" fill="#111">{f1(v)}</text>
      ))}
      {fFEC_S.map((s, i) => <Ring key={'f' + i} cx={x(s)} cy={y(fFEC_CE[i])} color={CRIMSON} />)}
      {fDMFSA_S.map((s, i) => <Ring key={'o' + i} cx={x(s)} cy={y(fDMFSA_CE[i])} color={ORANGE} />)}
      {fDME_S.map((s, i) => <Ring key={'d' + i} cx={x(s)} cy={y(fDME_CE[i])} color={BLUE} />)}
      <T x={1015} y={367} c={BLUE}>1</T>
      <T x={1011} y={394} c={BLUE}>2</T>
      <T x={1007} y={425} c={BLUE}>0.5</T>
      <T x={990} y={450} c={BLUE}>DME</T>
      <T x={1007} y={539} c={BLUE}>0.1</T>
      <T x={896} y={417} c={BLUE}>4</T>
      <T x={935} y={377} c={ORANGE}>1</T>
      <T x={913} y={393} c={ORANGE}>2</T>
      <T x={944} y={403} c={ORANGE}>0.5</T>
      <T x={931} y={444} c={ORANGE}>0.1</T>
      <T x={908} y={470} c={ORANGE}>DMFSA</T>
      <T x={864} y={377} c={CRIMSON}>1</T>
      <T x={882} y={388} c={CRIMSON}>0.5</T>
      <T x={848} y={408} c={CRIMSON}>0.1</T>
      <T x={875} y={420} c={CRIMSON}>2</T>
      <T x={835} y={431} c={CRIMSON}>FEC</T>
      <T x={879} y={481} c={CRIMSON}>4</T>
      <T x={988} y={609} s={14.5}>x M NaFSI</T>
      <Rich x={771} y={484} size={18} rotate={-90} anchor="middle" segs={[['Coulombic Efficiency (%)', '']]} />
      <Rich x={936} y={658} size={18} anchor="middle" segs={[['ΔS', ''], ['Na⁺/Na', 'sub'], [' (meV/K)', '']]} />
    </g>
  );
}

export default function App() {
  return (
    <svg
      width={1080}
      height={666}
      viewBox="0 0 1080 666"
      style={{ position: 'absolute', left: 0, top: 0, display: 'block' }}
      fontFamily={FONT}
    >
      <rect x={0} y={0} width={1080} height={666} fill="#fff" />
      <PanelA />
      <PanelB />
      <PanelC />
      <PanelD />
      <PanelE />
      <PanelF />
    </svg>
  );
}
